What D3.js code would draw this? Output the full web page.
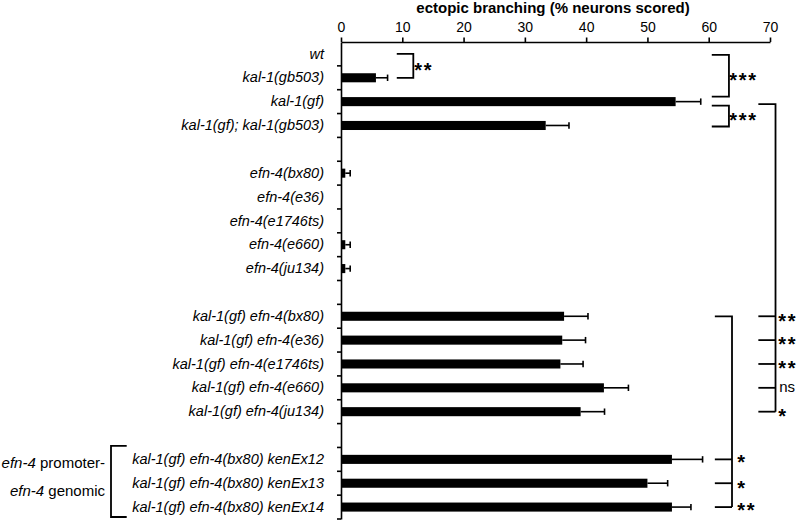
<!DOCTYPE html>
<html><head><meta charset="utf-8">
<script src="https://cdn.jsdelivr.net/npm/d3@7"></script>
<style>
body{margin:0;background:#fff}
svg{display:block}
text{font-family:"Liberation Sans",Arial,Helvetica,sans-serif;fill:#000}
</style>
</head><body>
<svg id="c" width="800" height="521"></svg>
<script>
// ---- data ----
const categories = [
  "wt","kal-1(gb503)","kal-1(gf)","kal-1(gf); kal-1(gb503)","",
  "efn-4(bx80)","efn-4(e36)","efn-4(e1746ts)","efn-4(e660)","efn-4(ju134)","",
  "kal-1(gf) efn-4(bx80)","kal-1(gf) efn-4(e36)","kal-1(gf) efn-4(e1746ts)","kal-1(gf) efn-4(e660)","kal-1(gf) efn-4(ju134)","",
  "kal-1(gf) efn-4(bx80) kenEx12","kal-1(gf) efn-4(bx80) kenEx13","kal-1(gf) efn-4(bx80) kenEx14"
];
const values = [0,5.7,54.6,33.4,null, 0.7,0,0,0.7,0.7,null, 36.4,36.1,35.8,42.9,39.1,null, 54.0,50.0,54.0];
const errors = [0,1.9,4.1,3.8,null, 0.8,0,0,0.8,0.8,null, 3.9,3.8,3.7,4.0,3.9,null, 5.0,3.3,3.1];
const xTicks = [0,10,20,30,40,50,60,70];
const xTitle = "ectopic branching (% neurons scored)";
const sigTop = ["**","***","***"];
const sigGroup = ["**","**","**","ns","*"];   // rows 11..15 vs kal-1(gf)
const sigRescue = ["*","*","**"];             // rows 17..19 vs kal-1(gf) efn-4(bx80)

// ---- layout ----
const svg = d3.select("#c");
const x = d3.scaleLinear().domain([0,70]).range([341,770]);
const y = d3.scaleBand().domain(d3.range(categories.length)).range([42,519])
  .paddingInner(0.62).paddingOuter(0.31);
const cy = i => y(i) + y.bandwidth()/2;
const step = y.step();
const y0 = y.range()[0];
const boundary = k => y0 + k*step;

// top axis
const gx = svg.append("g").attr("transform",`translate(0,${y0})`)
  .call(d3.axisTop(x).tickValues(xTicks).tickSize(4.5).tickSizeOuter(0).tickPadding(6));
gx.select(".domain").attr("stroke","#000").attr("stroke-width",1.6);
gx.selectAll(".tick line").attr("stroke","#000").attr("stroke-width",1.6);
gx.selectAll(".tick text").attr("font-size",14).attr("font-family",null);

svg.append("text").attr("x",553).attr("y",12.5).attr("text-anchor","middle")
  .attr("font-size",15).attr("font-weight","bold").text(xTitle);

// left axis
const gy = svg.append("g").attr("transform",`translate(${x(0)},0)`)
  .call(d3.axisLeft(y).tickSize(0).tickSizeOuter(0).tickPadding(17).tickFormat(i=>categories[i]));
gy.select(".domain").attr("stroke","#000").attr("stroke-width",1.6);
gy.selectAll(".tick text").attr("font-size",14.5).attr("font-style","italic").attr("font-family",null);

svg.append("g").selectAll("line").data(d3.range(1,categories.length+1)).join("line")
  .attr("x1",x(0)-4).attr("x2",x(0)).attr("y1",k=>boundary(k)).attr("y2",k=>boundary(k))
  .attr("stroke","#000").attr("stroke-width",1.6);

// bars
const rows = d3.range(categories.length).filter(i => values[i] !== null);
svg.append("g").selectAll("rect").data(rows.filter(i=>values[i]>0)).join("rect")
  .attr("x",x(0)).attr("y",i=>y(i)).attr("height",y.bandwidth())
  .attr("width",i=>x(values[i])-x(0)).attr("fill","#000");

// error bars
const eg = svg.append("g").attr("stroke","#000").attr("stroke-width",1.6);
rows.filter(i=>errors[i]>0).forEach(i=>{
  const a = x(values[i]), b = x(values[i]+errors[i]), c = cy(i);
  eg.append("line").attr("x1",a).attr("x2",b).attr("y1",c).attr("y2",c);
  eg.append("line").attr("x1",b).attr("x2",b).attr("y1",c-3.2).attr("y2",c+3.2);
});

// significance brackets
const bg = svg.append("g").attr("fill","none").attr("stroke","#000").attr("stroke-width",1.8);
function star(txt, xv, yc){
  if(txt==="ns"){
    svg.append("text").attr("x",xv).attr("y",yc+4.5).attr("font-size",15).text(txt);
  } else {
    svg.append("text").attr("x",xv-1).attr("y",yc+11.3).attr("font-size",20)
      .attr("font-weight","bold").attr("letter-spacing","1.8px").text(txt);
  }
}
// wt vs kal-1(gb503)
bg.append("path").attr("d",`M${x(9.1)},${cy(0)}H${x(11.8)}V${cy(1)}H${x(9.1)}`);
star(sigTop[0], x(12.1), (cy(0)+cy(1))/2);
// wt vs kal-1(gf)
bg.append("path").attr("d",`M${x(60.5)},${cy(0)+1}H${x(63.3)}V${cy(2)-5}H${x(60.5)}`);
star(sigTop[1], x(63.5), (cy(0)+1+cy(2)-5)/2);
// kal-1(gf) vs kal-1(gf); kal-1(gb503)
bg.append("path").attr("d",`M${x(60.5)},${cy(2)+4}H${x(63.3)}V${cy(3)+1}H${x(60.5)}`);
star(sigTop[2], x(63.5), (cy(2)+4+cy(3)+1)/2);
// kal-1(gf) vs kal-1(gf) efn-4 alleles
bg.append("path").attr("d",`M${x(68.1)},${cy(2)+2.5}H${x(70.9)}V${cy(15)}`);
sigGroup.forEach((s,j)=>{
  const r = 11+j;
  bg.append("path").attr("d",`M${x(68.1)},${cy(r)}H${x(70.9)}`);
  star(s, x(71.5), cy(r));
});
// kal-1(gf) efn-4(bx80) vs rescue lines
bg.append("path").attr("d",`M${x(61.0)},${cy(11)}H${x(63.8)}V${cy(19)}`);
sigRescue.forEach((s,j)=>{
  const r = 17+j;
  bg.append("path").attr("d",`M${x(61.0)},${cy(r)}H${x(63.8)}`);
  star(s, x(64.8), cy(r)-(j===0?2:(j===2?1.5:0)));
});

// left group bracket
const lt = boundary(17)-1.5, lb = boundary(20)-2;
bg.append("path").attr("d",`M126.7,${lt}H111V${lb}H126.7`);
const t1 = svg.append("text").attr("x",105).attr("y",467.5).attr("text-anchor","end").attr("font-size",15);
t1.append("tspan").attr("font-style","italic").text("efn-4");
t1.append("tspan").text(" promoter-");
const t2 = svg.append("text").attr("x",105).attr("y",496).attr("text-anchor","end").attr("font-size",15);
t2.append("tspan").attr("font-style","italic").text("efn-4");
t2.append("tspan").text(" genomic");
</script>
</body></html>
